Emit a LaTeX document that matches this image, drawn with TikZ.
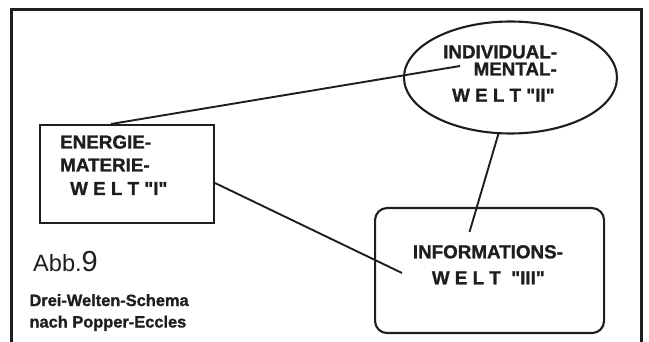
\documentclass[tikz,border=0pt]{standalone}
\usepackage{fontspec}
\setmainfont{Liberation Sans}[Ligatures=TeXOff]
\newfontfamily\heavyfont{Liberation Sans Bold}[Ligatures=TeXOff, FakeBold=1.2]
\usetikzlibrary{shapes.geometric}
\definecolor{ink}{HTML}{1E1E1E}
\tikzset{
  lbl/.style={font=\heavyfont\fontsize{18.8}{20}\selectfont, inner sep=0pt, text=ink, text height=13.5pt, text depth=0pt},
  captxt/.style={font=\heavyfont\fontsize{16.4}{18}\selectfont, inner sep=0pt, text=ink},
  shapebox/.style={draw=ink, line width=2.1pt, inner sep=0pt},
  conn/.style={draw=ink, line width=1.9pt},
  framelines/.style={draw=ink, line width=2.4pt}
}
\begin{document}
\begin{tikzpicture}[x=1pt,y=-1pt]
\useasboundingbox (0,0) rectangle (649,342);
% outer frame (open at bottom)
\coordinate (fbl) at (11.6,345);
\coordinate (ftl) at (11.6,9.5);
\coordinate (ftr) at (641.5,9.5);
\coordinate (fbr) at (641.5,345);
\draw[framelines] (fbl) -- (ftl) -- (ftr) -- (fbr);

% shapes
\node[shapebox, rectangle, minimum width=174pt, minimum height=98pt, anchor=north west] (w1) at (39,124) {};
\node[shapebox, ellipse, minimum width=213pt, minimum height=112pt] (w2) at (510.5,77.5) {};
\node[shapebox, rectangle, rounded corners=12pt, minimum width=229pt, minimum height=125pt, anchor=north west] (w3) at (374,207) {};

% texts
\node[lbl, anchor=base west] (t1a) at (60,148.5) {ENERGIE-};
\node[lbl, anchor=base west] (t1b) at (60,171.5) {MATERIE-};
\node[lbl, anchor=base west] (t1c) at (70,195) {W E L T "I"};

\node[lbl, anchor=base west] (t2a) at (443,58.3) {INDIVIDUAL-};
\node[lbl, anchor=base east] (t2b) at (557,75.5) {MENTAL-};
\node[lbl, anchor=base west] (t2c) at (452,101.7) {W E L T "II"};

\node[lbl, anchor=base west] (t3a) at (412.7,258.3) {INFORMATIONS-};
\node[lbl, anchor=base west] (t3b) at (431.7,284.3) {W E L T \ "III"};

\node[anchor=base west, inner sep=0pt, text=ink] (abb) at (33,271.7) {\fontsize{23.6}{25}\selectfont Abb.\fontsize{29}{30}\selectfont 9};
\node[captxt, anchor=base west] (c1) at (29.3,306) {Drei-Welten-Schema};
\node[captxt, anchor=base west] (c2) at (29.3,327.5) {nach Popper-Eccles};

% connectors
\coordinate (e1) at (460,66);
\coordinate (e2) at (402,273);
\coordinate (e3) at (469.5,232);
\draw[conn] (w1.north west) ++(72,0) -- (e1);
\draw[conn] (w1.east) ++(0,9) -- (e2);
\draw[conn] (w2.south) ++(-12,-1) -- (e3);
\end{tikzpicture}
\end{document}
